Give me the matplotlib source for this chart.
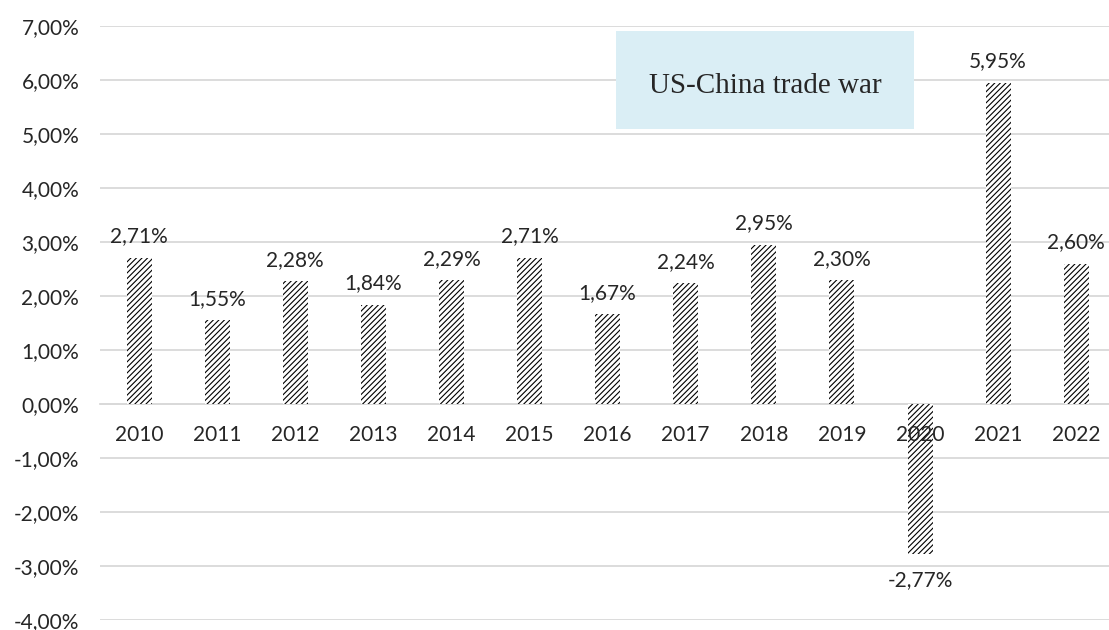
import matplotlib
matplotlib.use("Agg")
from matplotlib import pyplot as plt, patches

years = ["2010", "2011", "2012", "2013", "2014", "2015", "2016",
         "2017", "2018", "2019", "2020", "2021", "2022"]
growth = [2.71, 1.55, 2.28, 1.84, 2.29, 2.71, 1.67, 2.24, 2.95, 2.30, -2.77, 5.95, 2.60]
y_ticks = [-4, -3, -2, -1, 0, 1, 2, 3, 4, 5, 6, 7]
note_text = "US-China trade war"


def pct(v):
    return f"{v:.2f}%".replace(".", ",")


plt.rcParams['font.family'] = ['Lato', 'DejaVu Sans']
plt.rcParams['hatch.linewidth'] = 0.8
text_col = '#262626'
grid_col = '#d9d9d9'

fig = plt.figure(figsize=(11.09, 6.3), dpi=100)
ax = fig.add_axes([100 / 1109, 10 / 630, 1009 / 1109, 594 / 630])

x = list(range(len(years)))
ax.bar(x, growth, width=0.32, color='white', edgecolor='black',
       linewidth=0, hatch='//////', zorder=3)

ax.set_xlim(-0.5, (1109 - 139) / 78.1)
ax.set_ylim(-4, 7)
ax.set_yticks(y_ticks)
ax.set_yticklabels([pct(v) for v in y_ticks])
ax.set_xticks(x)
ax.set_xticklabels(years)
ax.grid(axis='y', color=grid_col, linewidth=1.3)
ax.yaxis.set_zorder(0.5)
ax.xaxis.set_zorder(4)
for s in ['top', 'right', 'left']:
    ax.spines[s].set_visible(False)
ax.spines['bottom'].set_position(('data', 0))
ax.spines['bottom'].set_color(grid_col)
ax.spines['bottom'].set_linewidth(1.3)
ax.spines['bottom'].set_zorder(0.6)
ax.tick_params(axis='y', length=0, pad=15, labelsize=15, labelcolor=text_col)
ax.tick_params(axis='x', length=0, pad=15, labelsize=15, labelcolor=text_col)

for xi, v in zip(x, growth):
    off = 8 if v >= 0 else -12
    ax.annotate(pct(v), (xi, v), xytext=(0, off), textcoords='offset points',
                ha='center', va='bottom' if v >= 0 else 'top',
                fontsize=15, color=text_col, zorder=4)

# note box
box = patches.Rectangle((616 / 1109, 1 - 129 / 630), 298 / 1109, 98 / 630,
                        transform=fig.transFigure, facecolor='#daeef5',
                        edgecolor='none', zorder=5)
fig.patches.append(box)
fig.text(765 / 1109, 1 - 86 / 630, note_text, ha='center', va='center',
         fontsize=21, family=['Liberation Serif', 'DejaVu Serif'], color=text_col,
         zorder=6)

plt.savefig('out.png', dpi=100)
